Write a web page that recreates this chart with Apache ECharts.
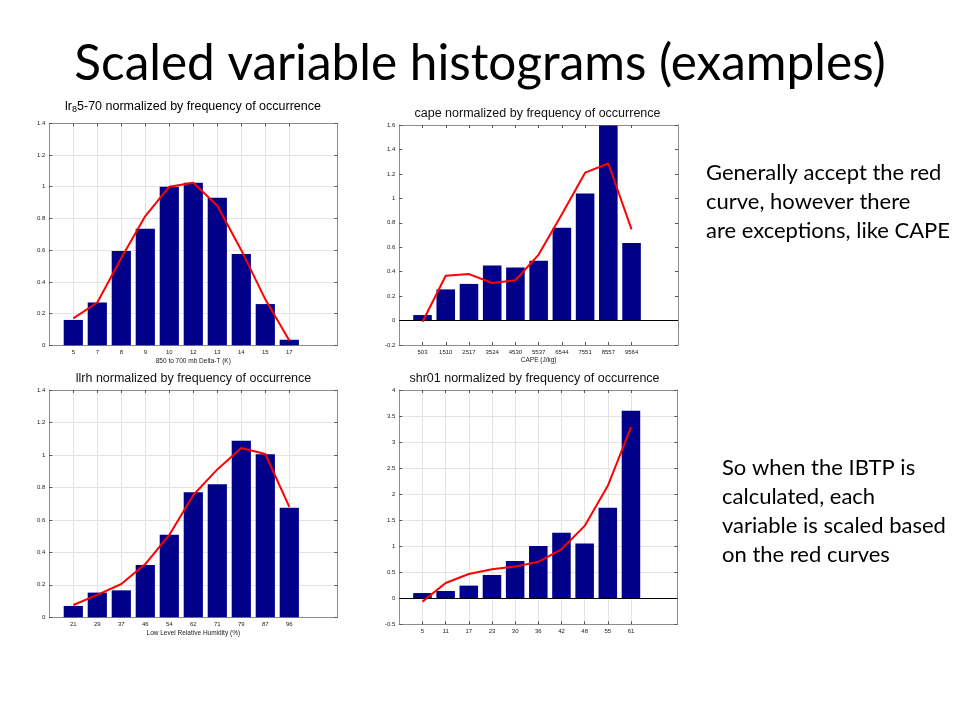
<!DOCTYPE html>
<html><head><meta charset="utf-8">
<script src="https://cdn.jsdelivr.net/npm/echarts@6/dist/echarts.min.js"></script>
<style>html,body{margin:0;padding:0;background:#fff}#c{width:960px;height:720px}</style>
</head><body><div id="c"></div>
<script>
// ---- data ----
const lrLabels = ['5','7','8','9','10','12','13','14','15','17'];
const lrBars = [0.16,0.27,0.595,0.735,1.0,1.025,0.93,0.575,0.26,0.035];
const lrCurve = [0.17,0.27,0.55,0.815,1.0,1.025,0.88,0.60,0.29,0.03];

const capeLabels = ['503','1510','2517','3524','4530','5537','6544','7551','8557','9564'];
const capeBars = [0.045,0.255,0.30,0.45,0.435,0.49,0.76,1.04,1.595,0.635];
const capeCurve = [-0.01,0.367,0.38,0.307,0.33,0.54,0.87,1.21,1.285,0.746];

const llrhLabels = ['21','29','37','46','54','62','71','79','87','96'];
const llrhBars = [0.07,0.152,0.166,0.322,0.509,0.77,0.819,1.088,1.004,0.675];
const llrhCurve = [0.076,0.138,0.205,0.328,0.507,0.753,0.911,1.043,1.006,0.68];

const shrLabels = ['5','11','17','23','30','36','42','48','55','61'];
const shrBars = [0.1,0.14,0.243,0.448,0.716,1.005,1.26,1.05,1.74,3.6];
const shrCurve = [-0.065,0.294,0.467,0.556,0.608,0.70,0.94,1.39,2.16,3.28];

const panels = [
  {labels: lrLabels, bars: lrBars, curve: lrCurve, min: 0, max: 1.4, interval: 0.2, gridLines: true, xName: '850 to 700 mb Delta-T (K)',
   grid: {left: 49.3, top: 123.3, width: 288, height: 222}},
  {labels: capeLabels, bars: capeBars, curve: capeCurve, min: -0.2, max: 1.6, interval: 0.2, gridLines: false, xName: 'CAPE (J/kg)', zeroLine: true,
   grid: {left: 399.3, top: 125, width: 278.7, height: 220}},
  {labels: llrhLabels, bars: llrhBars, curve: llrhCurve, min: 0, max: 1.4, interval: 0.2, gridLines: true, xName: 'Low Level Relative Humidity (%)',
   grid: {left: 49.3, top: 390, width: 288, height: 227.3}},
  {labels: shrLabels, bars: shrBars, curve: shrCurve, min: -0.5, max: 4, interval: 0.5, gridLines: true, xName: '', zeroLine: true,
   grid: {left: 399.3, top: 390, width: 278, height: 234.3}}
];

const FONT = 'Liberation Sans, Arial, sans-serif';
const boxColor = '#8c8c8c';
const gridColor = '#e4e4e4';
const inRange = (i) => i >= 1 && i <= 10;

const grids = [], xAxes = [], yAxes = [], series = [];
panels.forEach((p, i) => {
  grids.push(Object.assign({containLabel: false}, p.grid));
  const cats = [''].concat(p.labels, ['', '']);
  xAxes.push({
    type: 'category', gridIndex: i, data: cats, boundaryGap: false, position: 'bottom',
    axisLine: {show: true, onZero: false, lineStyle: {color: boxColor, width: 1}},
    axisTick: {show: true, inside: true, length: 3, interval: (idx) => inRange(idx), lineStyle: {color: '#555'}},
    axisLabel: {show: true, interval: 0, margin: 4, fontSize: 6, fontFamily: FONT, color: '#222'},
    splitLine: {show: p.gridLines, interval: (idx) => inRange(idx), lineStyle: {color: gridColor, width: 1}},
    name: p.xName, nameLocation: 'middle', nameGap: 12,
    nameTextStyle: {fontSize: 6.5, fontFamily: FONT, color: '#222'}
  });
  xAxes.push({
    type: 'category', gridIndex: i, data: cats, boundaryGap: false, position: 'top',
    axisLine: {show: true, onZero: false, lineStyle: {color: boxColor, width: 1}},
    axisTick: {show: true, inside: true, length: 3, interval: (idx) => inRange(idx), lineStyle: {color: '#555'}},
    axisLabel: {show: false}, splitLine: {show: false}
  });
  yAxes.push({
    type: 'value', gridIndex: i, min: p.min, max: p.max, interval: p.interval, position: 'left',
    axisLine: {show: true, onZero: false, lineStyle: {color: boxColor, width: 1}},
    axisTick: {show: true, inside: true, length: 3, lineStyle: {color: '#555'}},
    axisLabel: {show: true, margin: 4, fontSize: 6, fontFamily: FONT, color: '#222'},
    splitLine: {show: p.gridLines, lineStyle: {color: gridColor, width: 1}}
  });
  yAxes.push({
    type: 'value', gridIndex: i, min: p.min, max: p.max, interval: p.interval, position: 'right',
    axisLine: {show: true, onZero: false, lineStyle: {color: boxColor, width: 1}},
    axisTick: {show: true, inside: true, length: 3, lineStyle: {color: '#555'}},
    axisLabel: {show: false}, splitLine: {show: false}
  });
  const barSeries = {
    type: 'bar', xAxisIndex: 2 * i, yAxisIndex: 2 * i,
    data: [null].concat(p.bars, [null, null]),
    barWidth: '80%', itemStyle: {color: '#000088'}, z: 2
  };
  if (p.zeroLine) {
    barSeries.markLine = {silent: true, symbol: 'none', label: {show: false},
      lineStyle: {color: '#000', width: 1, type: 'solid'}, data: [{yAxis: 0}]};
  }
  series.push(barSeries);
  series.push({
    type: 'line', xAxisIndex: 2 * i, yAxisIndex: 2 * i,
    data: [null].concat(p.curve, [null, null]),
    symbol: 'none', lineStyle: {color: '#ff0000', width: 2}, z: 5
  });
});

const titleFont = {fontSize: 12.5, fontFamily: FONT, fill: '#111'};
const graphics = [
  {type: 'text', style: {text: 'Scaled variable histograms (examples)', x: 480, y: 64, align: 'center', verticalAlign: 'middle',
    fontSize: 49.5, fontFamily: 'Lato, sans-serif', fill: '#000'}},
  {type: 'text', style: {text: 'Generally accept the red\ncurve, however there\nare exceptions, like CAPE', x: 706, y: 158,
    align: 'left', verticalAlign: 'top', fontSize: 22, lineHeight: 29, fontFamily: 'Lato, sans-serif', fill: '#000'}},
  {type: 'text', style: {text: 'So when the IBTP is\ncalculated, each\nvariable is scaled based\non the red curves', x: 722, y: 453.5,
    align: 'left', verticalAlign: 'top', fontSize: 22, lineHeight: 29, fontFamily: 'Lato, sans-serif', fill: '#000'}},
  {type: 'text', style: {text: '{n|lr}{s|8}{n|5-70 normalized by frequency of occurrence}', x: 193, y: 100.5, align: 'center', verticalAlign: 'top',
    rich: {n: {fontSize: 12.5, lineHeight: 14, verticalAlign: 'top', fontFamily: FONT, color: '#111'},
           s: {fontSize: 9, lineHeight: 9, padding: [10, 0, 0, 0], verticalAlign: 'bottom', fontFamily: FONT, color: '#111'}}}},
  {type: 'text', style: Object.assign({text: 'cape normalized by frequency of occurrence', x: 537.5, y: 114, align: 'center', verticalAlign: 'middle'}, titleFont)},
  {type: 'text', style: Object.assign({text: 'llrh normalized by frequency of occurrence', x: 193.5, y: 379, align: 'center', verticalAlign: 'middle'}, titleFont)},
  {type: 'text', style: Object.assign({text: 'shr01 normalized by frequency of occurrence', x: 534.5, y: 379, align: 'center', verticalAlign: 'middle'}, titleFont)}
];

const chart = echarts.init(document.getElementById('c'));
chart.setOption({
  animation: false,
  backgroundColor: '#fff',
  grid: grids, xAxis: xAxes, yAxis: yAxes, series: series,
  graphic: graphics
});
</script>
</body></html>
